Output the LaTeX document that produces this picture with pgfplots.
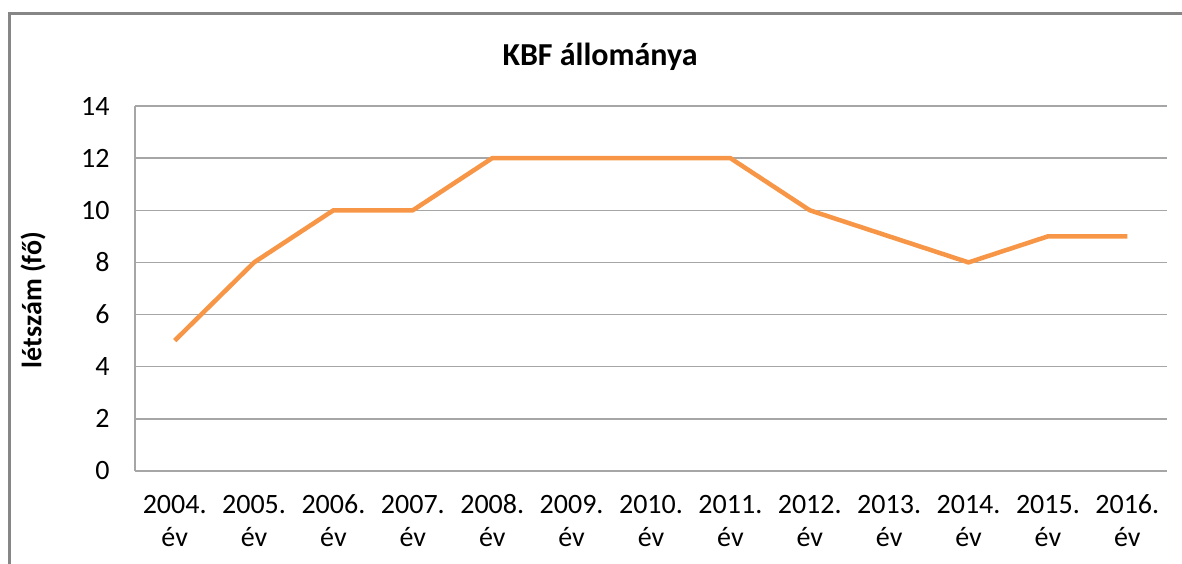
\documentclass[border=0pt]{standalone}
\usepackage{pgfplots}
\pgfplotsset{compat=1.18}
\usepackage{fontspec}
\setmainfont{Carlito}
\definecolor{lineor}{HTML}{F79646}
\definecolor{gridg}{HTML}{A6A6A6}
\definecolor{bord}{HTML}{868686}
\newcommand{\tl}[1]{\strut #1.\\\strut év}
\begin{document}
\fontsize{28}{33}\selectfont
\begin{tikzpicture}[x=1pt,y=1pt]
\useasboundingbox (0,0) rectangle (1182,564);
\draw[bord,line width=3pt] (9.5,0) -- (9.5,550.5) -- (1182,550.5);
\node[font=\fontsize{32}{36}\selectfont\bfseries] at (600,507) {KBF állománya};
\node[font=\fontsize{28}{30}\selectfont\bfseries, rotate=90] at (33,264) {létszám (fő)};
\begin{axis}[
  at={(135pt,93pt)}, anchor=south west,
  scale only axis, width=1032pt, height=365pt,
  xmin=-0.5, xmax=12.5, ymin=0, ymax=14,
  ytick={0,2,...,14},
  xtick={0,...,12},
  xticklabels={{\tl{2004}},{\tl{2005}},{\tl{2006}},{\tl{2007}},{\tl{2008}},{\tl{2009}},{\tl{2010}},{\tl{2011}},{\tl{2012}},{\tl{2013}},{\tl{2014}},{\tl{2015}},{\tl{2016}}},
  x tick label style={align=center, font=\fontsize{28}{33}\selectfont, yshift=-10pt},
  y tick label style={font=\fontsize{28}{30}\selectfont, xshift=-16pt},
  /pgf/number format/assume math mode=true,
  major tick length=0pt,
  axis lines*=left,
  axis line style={gridg, line width=1.5pt, -},
  ymajorgrids, grid style={gridg, line width=1.5pt},
  clip=false,
]
\addplot[lineor, line width=4.5pt, line join=round] coordinates {
(0,5) (1,8) (2,10) (3,10) (4,12) (5,12) (6,12) (7,12) (8,10) (9,9) (10,8) (11,9) (12,9)
};
\end{axis}
\end{tikzpicture}
\end{document}
